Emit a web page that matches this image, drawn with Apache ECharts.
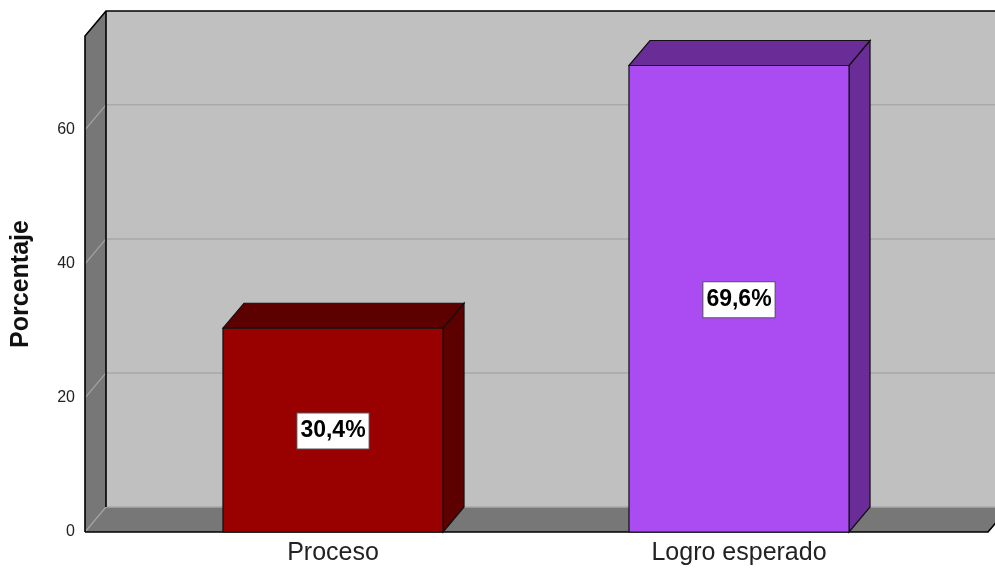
<!DOCTYPE html>
<html>
<head>
<meta charset="utf-8">
<script src="https://cdn.jsdelivr.net/npm/echarts@6/dist/echarts.min.js"></script>
<style>
html,body{margin:0;padding:0;background:#fff;}
#chart{width:995px;height:570px;}
</style>
</head>
<body>
<div id="chart"></div>
<script>
// ---- data ----
const categories = ['Proceso', 'Logro esperado'];
const percentValues = [30.4, 69.6];
const yTicks = [0, 20, 40, 60];
const yMax = 74;

// ---- styles ----
const FONT = 'Arial, "Liberation Sans", sans-serif';
const frontColors = ['#990000', '#aa4cf2'];
const darkColors = ['#5c0000', '#6a2c96'];
const DX = 21, DY = 25;           // 3D depth offset in px
const WALL_PAD_L = 45, WALL_PAD_R = 46;

function fmt(v) { return v.toFixed(1).replace('.', ',') + '%'; }

const chart = echarts.init(document.getElementById('chart'), null, {renderer: 'canvas'});

function renderWalls(params, api) {
  const cs = params.coordSys;
  const xL = cs.x - WALL_PAD_L;
  const xR = cs.x + cs.width + WALL_PAD_R;
  const yTop = api.coord([0, yMax])[1];
  const yBot = api.coord([0, 0])[1];
  const children = [];
  // back wall
  children.push({type: 'rect', shape: {x: xL + DX, y: yTop - DY, width: (xR - xL) + 10, height: yBot - yTop},
    style: {fill: '#c0c0c0', stroke: null}});
  // left wall
  children.push({type: 'polygon', shape: {points: [[xL, yTop], [xL + DX, yTop - DY], [xL + DX, yBot - DY], [xL, yBot]]},
    style: {fill: '#777777', stroke: null}});
  // floor
  children.push({type: 'polygon', shape: {points: [[xL, yBot], [xL + DX, yBot - DY], [xR + DX, yBot - DY], [xR, yBot]]},
    style: {fill: '#777777', stroke: null}});
  // gridlines
  yTicks.forEach(function (t) {
    const y = api.coord([0, t])[1];
    children.push({type: 'line', shape: {x1: xL, y1: y, x2: xL + DX, y2: y - DY},
      style: {stroke: '#a4a4a4', lineWidth: 1.2}});
    children.push({type: 'line', shape: {x1: xL + DX, y1: y - DY, x2: xR + DX + 20, y2: y - DY},
      style: {stroke: '#a9a9a9', lineWidth: 1.5}});
  });
  // black edges
  const edge = {stroke: '#000', lineWidth: 1.6};
  children.push({type: 'polyline', shape: {points: [[xL, yBot], [xL, yTop], [xL + DX, yTop - DY], [xR + DX + 20, yTop - DY]]}, style: Object.assign({fill: null}, edge)});
  children.push({type: 'line', shape: {x1: xL + DX, y1: yTop - DY, x2: xL + DX, y2: yBot - DY}, style: edge});
  children.push({type: 'polyline', shape: {points: [[xL, yBot], [xR, yBot], [xR + DX, yBot - DY]]}, style: Object.assign({fill: null}, edge)});
  return {type: 'group', children: children};
}

function renderBar(params, api) {
  const idx = api.value(0);
  const val = api.value(1);
  const c = api.coord([idx, val]);
  const y0 = api.coord([idx, 0])[1];
  const band = api.size([1, 0])[0];
  const w = band * 0.542;
  const x0 = c[0] - w / 2, x1 = c[0] + w / 2, yv = c[1];
  const i = params.dataIndex;
  const edge = {stroke: '#111', lineWidth: 1.2};
  return {
    type: 'group',
    children: [
      {type: 'polygon', shape: {points: [[x1, yv], [x1 + DX, yv - DY], [x1 + DX, y0 - DY], [x1, y0]]},
        style: Object.assign({fill: darkColors[i]}, edge)},
      {type: 'polygon', shape: {points: [[x0, yv], [x0 + DX, yv - DY], [x1 + DX, yv - DY], [x1, yv]]},
        style: Object.assign({fill: darkColors[i]}, edge)},
      {type: 'rect', shape: {x: x0, y: yv, width: w, height: y0 - yv},
        style: Object.assign({fill: frontColors[i]}, edge)},
      {type: 'text', x: c[0], y: (yv + y0) / 2 + 1,
        style: {text: fmt(val), fill: '#000', font: 'bold 23px ' + FONT, align: 'center', verticalAlign: 'middle',
          backgroundColor: '#fff', borderColor: '#555', borderWidth: 1, padding: [6, 3], lineHeight: 23}}
    ]
  };
}

chart.setOption({
  animation: false,
  backgroundColor: '#fff',
  grid: {left: 130, right: 53, top: 36, bottom: 38},
  xAxis: {
    type: 'category', data: categories,
    axisLine: {show: false}, axisTick: {show: false}, splitLine: {show: false},
    axisLabel: {fontSize: 25, color: '#222', fontFamily: FONT, margin: 9}
  },
  yAxis: {
    type: 'value', min: 0, max: yMax, interval: 20, offset: WALL_PAD_L,
    axisLine: {show: false}, axisTick: {show: false}, splitLine: {show: false},
    axisLabel: {fontSize: 16, color: '#222', fontFamily: FONT, margin: 10, showMaxLabel: false},
    name: 'Porcentaje', nameLocation: 'middle', nameGap: 51,
    nameTextStyle: {fontSize: 25, fontWeight: 'bold', color: '#111', fontFamily: FONT}
  },
  series: [
    {type: 'custom', renderItem: renderWalls, data: [[0, 0]], silent: true, z: 1, clip: false},
    {type: 'custom', renderItem: renderBar, data: percentValues.map(function (v, i) { return [i, v]; }), z: 2, clip: false}
  ]
});
</script>
</body>
</html>
